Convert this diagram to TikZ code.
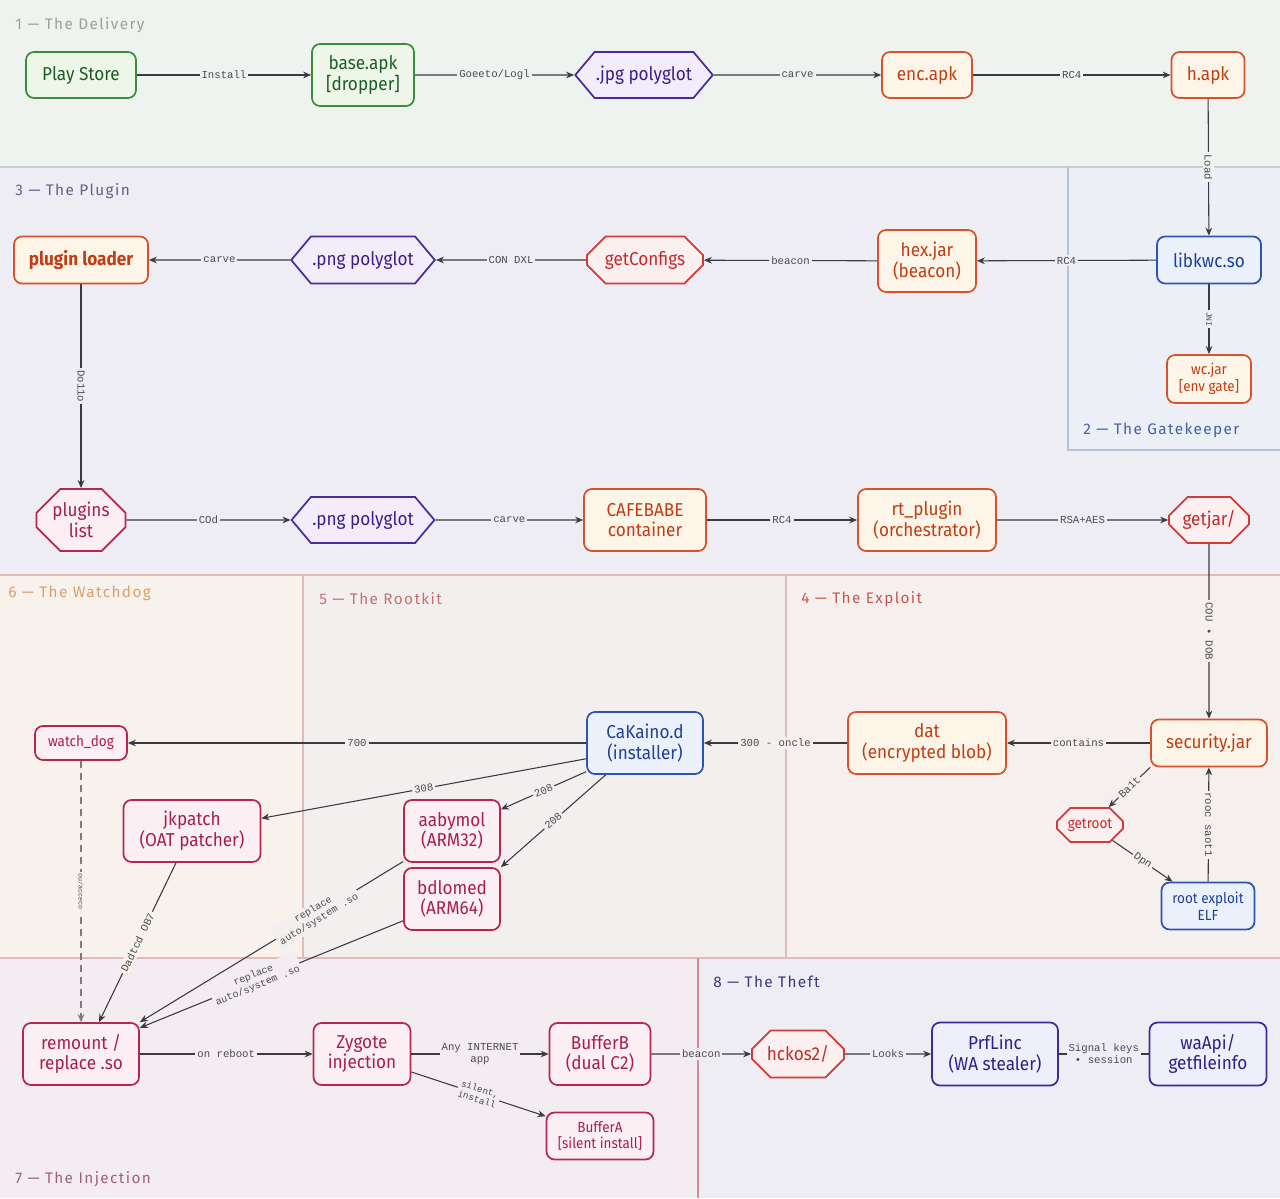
\documentclass[tikz,border=0pt]{standalone}
\usepackage{fontspec}
\setmainfont{Fira Sans}
\newfontfamily\nodefam{Fira Sans}[FakeStretch=0.92]
\newfontfamily\lblfam{Liberation Mono}
\newfontfamily\ttlfam{Fira Sans}[LetterSpace=9]
\usetikzlibrary{shapes.misc,shapes.symbols,arrows.meta}
% backgrounds
\definecolor{bgA}{HTML}{EFF3EF}
\definecolor{bgB}{HTML}{EDEFF6}
\definecolor{bgC}{HTML}{EFEDF4}
\definecolor{bgD}{HTML}{F5F0EE}
\definecolor{bgE}{HTML}{F4EFEF}
\definecolor{bgF}{HTML}{F7F2EC}
\definecolor{bgG}{HTML}{F3EDF1}
\definecolor{bgH}{HTML}{EEEDF4}
% lines
\definecolor{lnA}{HTML}{C9CDD6}
\definecolor{lnB}{HTML}{B9C1D3}
\definecolor{lnC}{HTML}{E2BABA}
\definecolor{lnD}{HTML}{D48A98}
% titles
\definecolor{tA}{HTML}{9AA09A}
\definecolor{tB}{HTML}{4262AA}
\definecolor{tC}{HTML}{6B5C8C}
\definecolor{tD}{HTML}{C8584E}
\definecolor{tE}{HTML}{C27272}
\definecolor{tF}{HTML}{DBA06C}
\definecolor{tG}{HTML}{A0607C}
\definecolor{tH}{HTML}{3A3A7C}
% node palettes
\definecolor{gD}{HTML}{3C8C3C}\definecolor{gF}{HTML}{EEF6EA}\definecolor{gT}{HTML}{1E5C24}
\definecolor{pD}{HTML}{4B2A9B}\definecolor{pF}{HTML}{F3ECFB}\definecolor{pT}{HTML}{3A1F8A}
\definecolor{oD}{HTML}{D9512C}\definecolor{oF}{HTML}{FDF6E8}\definecolor{oT}{HTML}{C23C14}
\definecolor{rD}{HTML}{D23B3B}\definecolor{rF}{HTML}{FCEFEF}\definecolor{rT}{HTML}{C42B2B}
\definecolor{kD}{HTML}{B8264F}\definecolor{kF}{HTML}{FBEFF3}\definecolor{kT}{HTML}{A8204A}
\definecolor{bD}{HTML}{2D54B4}\definecolor{bF}{HTML}{EBF1FB}\definecolor{bT}{HTML}{1F3F98}
\definecolor{iD}{HTML}{3B2B9C}\definecolor{iF}{HTML}{EFEEFB}\definecolor{iT}{HTML}{2E2088}
\definecolor{eC}{HTML}{3A3A40}
\definecolor{lC}{HTML}{4A4A50}
\definecolor{dC}{HTML}{7A7A80}
\tikzset{
  nb/.style={align=center, line width=1.3pt, inner sep=1pt, font=\fontsize{14pt}{15.5pt}\selectfont\nodefam},
  smalltext/.style={font=\fontsize{11pt}{12.5pt}\selectfont\nodefam},
  rbox/.style={nb, rectangle, rounded corners=6pt},
  hexa/.style={nb, signal, signal to=east and west, signal pointer angle=100},
  octa/.style={nb, chamfered rectangle, chamfered rectangle xsep=7pt, chamfered rectangle ysep=7pt},
  sz/.style 2 args={minimum width=#1*0.75pt, minimum height=#2*0.75pt},
  cG/.style={draw=gD, fill=gF, text=gT},
  cP/.style={draw=pD, fill=pF, text=pT},
  cO/.style={draw=oD, fill=oF, text=oT},
  cR/.style={draw=rD, fill=rF, text=rT},
  cK/.style={draw=kD, fill=kF, text=kT},
  cB/.style={draw=bD, fill=bF, text=bT},
  cI/.style={draw=iD, fill=iF, text=iT},
  conn/.style={draw=eC, line width=0.8pt, -{Stealth[length=6pt,width=5pt]}},
  plain/.style={draw=eC, line width=0.8pt},
  lbl/.style={fill=#1, text=lC, inner sep=1.5pt, font=\fontsize{8pt}{9pt}\selectfont\lblfam, align=center},
  ttl/.style={anchor=west, inner sep=0pt, font=\fontsize{11.5pt}{13pt}\selectfont\ttlfam, text=#1},
}
\begin{document}
\begin{tikzpicture}[x=0.75pt,y=-0.75pt]
\useasboundingbox (0,0) rectangle (1280,1198);
% ---------- section backgrounds
\fill[bgA] (0,0) rectangle (1280,167);
\fill[bgC] (0,167) rectangle (1280,575);
\fill[bgB] (1068,167) rectangle (1280,450);
\fill[bgF] (0,575) rectangle (303,958);
\fill[bgE] (303,575) rectangle (786,958);
\fill[bgD] (786,575) rectangle (1280,958);
\fill[bgG] (0,958) rectangle (698,1198);
\fill[bgH] (698,958) rectangle (1280,1198);
\draw[lnA, line width=0.8pt] (0,167) -- (1280,167);
\draw[lnB, line width=0.8pt] (1068,167) -- (1068,450) -- (1280,450);
\draw[lnC, line width=0.8pt] (0,575) -- (1280,575);
\draw[lnC, line width=0.8pt] (303,575) -- (303,958);
\draw[lnC, line width=0.8pt] (786,575) -- (786,958);
\draw[lnC, line width=0.8pt] (0,958) -- (1280,958);
\draw[lnD, line width=0.8pt] (698,958) -- (698,1198);
% ---------- titles
\node[ttl=tA] (t1) at (15,25) {1 — The Delivery};
\node[ttl=tC] (t3) at (15,191) {3 — The Plugin};
\node[ttl=tB] (t2) at (1083,430) {2 — The Gatekeeper};
\node[ttl=tF] (t6) at (8,593) {6 — The Watchdog};
\node[ttl=tE] (t5) at (319,599) {5 — The Rootkit};
\node[ttl=tD] (t4) at (801,599) {4 — The Exploit};
\node[ttl=tG] (t7) at (15,1179) {7 — The Injection};
\node[ttl=tH] (t8) at (713,982) {8 — The Theft};
% ---------- row 1
\node[rbox, cG, sz={110}{46}] (play) at (81,75) {Play Store};
\node[rbox, cG, sz={102}{62}] (base) at (363,75) {base.apk\\{[}dropper{]}};
\node[hexa, cP, sz={128}{46}] (jpg) at (644,75) {.jpg polyglot};
\node[rbox, cO, sz={90}{46}] (enc) at (927,75) {enc.apk};
\node[rbox, cO, sz={73}{46}] (happ) at (1208,75) {h.apk};
% ---------- gatekeeper
\node[rbox, cB, sz={104}{47}] (lib) at (1209,260) {libkwc.so};
\node[rbox, cO, smalltext, sz={84}{48}] (wc) at (1209,379) {wc.jar\\{[}env gate{]}};
% ---------- row 2
\node[rbox, cO, sz={134}{47}, font=\fontsize{14pt}{15.5pt}\selectfont\nodefam\bfseries] (ploader) at (81,260) {plugin loader};
\node[hexa, cP, sz={134}{47}] (png1) at (363,260) {.png polyglot};
\node[octa, cR, sz={116}{47}] (getc) at (645,260) {getConfigs};
\node[rbox, cO, sz={98}{62}] (hex) at (927,261) {hex.jar\\(beacon)};
% ---------- row 3
\node[octa, draw=kD, fill=kF, text=kT, sz={89}{62}, chamfered rectangle xsep=9pt, chamfered rectangle ysep=9pt] (plist) at (81,520) {plugins\\list};
\node[hexa, cP, sz={134}{46}] (png2) at (363,520) {.png polyglot};
\node[rbox, cO, sz={122}{62}] (cafe) at (645,520) {CAFEBABE\\container};
\node[rbox, cO, sz={138}{62}] (rt) at (927,520) {rt\_plugin\\(orchestrator)};
\node[octa, cR, sz={80}{46}] (gj) at (1209,520) {getjar/};
% ---------- exploit
\node[rbox, cO, sz={116}{47}] (sec) at (1209,743) {security.jar};
\node[rbox, cO, sz={158}{62}] (dat) at (927,743) {dat\\(encrypted blob)};
\node[octa, cR, smalltext, sz={66}{34}, chamfered rectangle xsep=5pt, chamfered rectangle ysep=5pt] (groot) at (1090,825) {getroot};
\node[rbox, cB, smalltext, sz={93}{47}] (rexp) at (1208,906) {root exploit\\ELF};
% ---------- rootkit
\node[rbox, cB, sz={116}{62}] (cak) at (645,743) {CaKaino.d\\(installer)};
\node[rbox, cK, sz={96}{62}] (aab) at (452,831) {aabymol\\(ARM32)};
\node[rbox, cK, sz={96}{62}] (bdl) at (452,899) {bdlomed\\(ARM64)};
% ---------- watchdog
\node[rbox, cK, sz={137}{62}] (jk) at (192,831) {jkpatch\\(OAT patcher)};
\node[rbox, cK, smalltext, sz={92}{34}] (wd) at (81,743) {watch\_dog};
% ---------- injection
\node[rbox, cK, sz={116}{62}] (rem) at (81,1054) {remount /\\replace .so};
\node[rbox, cK, sz={97}{62}] (zy) at (362,1054) {Zygote\\injection};
\node[rbox, cK, sz={101}{62}] (bufb) at (600,1054) {BufferB\\(dual C2)};
\node[rbox, cK, smalltext, sz={107}{47}] (bufa) at (600,1136) {BufferA\\{[}silent install{]}};
% ---------- theft
\node[octa, cR, sz={92}{47}] (hck) at (798,1054) {hckos2/};
\node[rbox, cI, sz={126}{63}] (prf) at (995,1054) {PrfLinc\\(WA stealer)};
\node[rbox, cI, sz={117}{63}] (wa) at (1208,1054) {waApi/\\getfileinfo};
% ---------- connectors row 1
\draw[conn] (play) -- node[lbl=bgA] {Install} (base);
\draw[conn] (base) -- node[lbl=bgA] {Goeeto/Logl} (jpg);
\draw[conn] (jpg) -- node[lbl=bgA] {carve} (enc);
\draw[conn] (enc) -- node[lbl=bgA] {RC4} (happ);
\draw[conn] (happ) -- node[lbl=bgA, rotate=-90] {Load} (lib);
\draw[conn] (lib) -- node[lbl=bgB, rotate=-90, font=\fontsize{6pt}{7pt}\selectfont\lblfam] {JNI} (wc);
% ---------- row 2
\draw[conn] (lib) -- node[lbl=bgC] {RC4} (hex);
\draw[conn] (hex) -- node[lbl=bgC] {beacon} (getc);
\draw[conn] (getc) -- node[lbl=bgC] {CON DXL} (png1);
\draw[conn] (png1) -- node[lbl=bgC] {carve} (ploader);
\draw[conn] (ploader) -- node[lbl=bgC, rotate=-90] {Do11o} (plist);
% ---------- row 3
\draw[conn] (plist) -- node[lbl=bgC] {COd} (png2);
\draw[conn] (png2) -- node[lbl=bgC] {carve} (cafe);
\draw[conn] (cafe) -- node[lbl=bgC] {RC4} (rt);
\draw[conn] (rt) -- node[lbl=bgC] {RSA+AES} (gj);
\draw[conn] (gj) -- node[lbl=bgD, rotate=-90] {COU • DOB} (sec);
% ---------- exploit
\draw[conn] (sec) -- node[lbl=bgD] {contains} (dat);
\draw[conn] (dat) -- node[lbl=bgD] {300 - oncle} (cak);
\draw[conn] (sec.south west) -- node[lbl=bgD, sloped] {Ba1t} (groot);
\draw[conn] (groot) -- node[lbl=bgD, sloped] {Dpn} (rexp);
\draw[conn] (rexp) -- node[lbl=bgD, rotate=-90] {rooc saot1} (sec);
% ---------- rootkit
\draw[conn] (cak) -- node[lbl=bgE] {700} (wd);
\draw[conn] (cak.195) -- node[lbl=bgE, sloped] {308} (jk);
\draw[conn] (cak.206) -- node[lbl=bgE, sloped] {208} (aab);
\draw[conn] (cak.219) -- node[lbl=bgE, sloped] {208} (bdl.north east);
\draw[conn, draw=dC, dash pattern=on 5pt off 4pt] (wd) -- node[lbl=bgF, rotate=-90, font=\fontsize{5pt}{6pt}\selectfont\lblfam] {ou/acceco} (rem);
\draw[conn] ([xshift=-12pt]jk.south) -- node[lbl=bgF, sloped] {Dadtcd OB7} ([xshift=13.5pt]rem.north);
\draw[conn] (aab.212) -- node[lbl=bgE, sloped, pos=0.33, font=\fontsize{7.5pt}{8.5pt}\selectfont\lblfam] {replace\\auto/system .so} (rem.north east);
\draw[conn] (bdl.204) -- node[lbl=bgG, sloped, pos=0.56, font=\fontsize{7.5pt}{8.5pt}\selectfont\lblfam] {replace\\auto/system .so} (rem.24);
% ---------- injection
\draw[conn] (rem) -- node[lbl=bgG] {on reboot} (zy);
\draw[conn] (zy) -- node[lbl=bgG] {Any INTERNET\\app} (bufb);
\draw[conn] (zy.-20) -- node[lbl=bgG, sloped, font=\fontsize{7pt}{8pt}\selectfont\lblfam] {silent,\\install} (bufa.160);
\draw[conn] (bufb) -- node[lbl=bgG] {beacon} (hck);
% ---------- theft
\draw[conn] (hck) -- node[lbl=bgH] {Looks} (prf);
\draw[plain] (prf) -- node[lbl=bgH] {Signal keys\\• session} (wa);
\end{tikzpicture}
\end{document}
